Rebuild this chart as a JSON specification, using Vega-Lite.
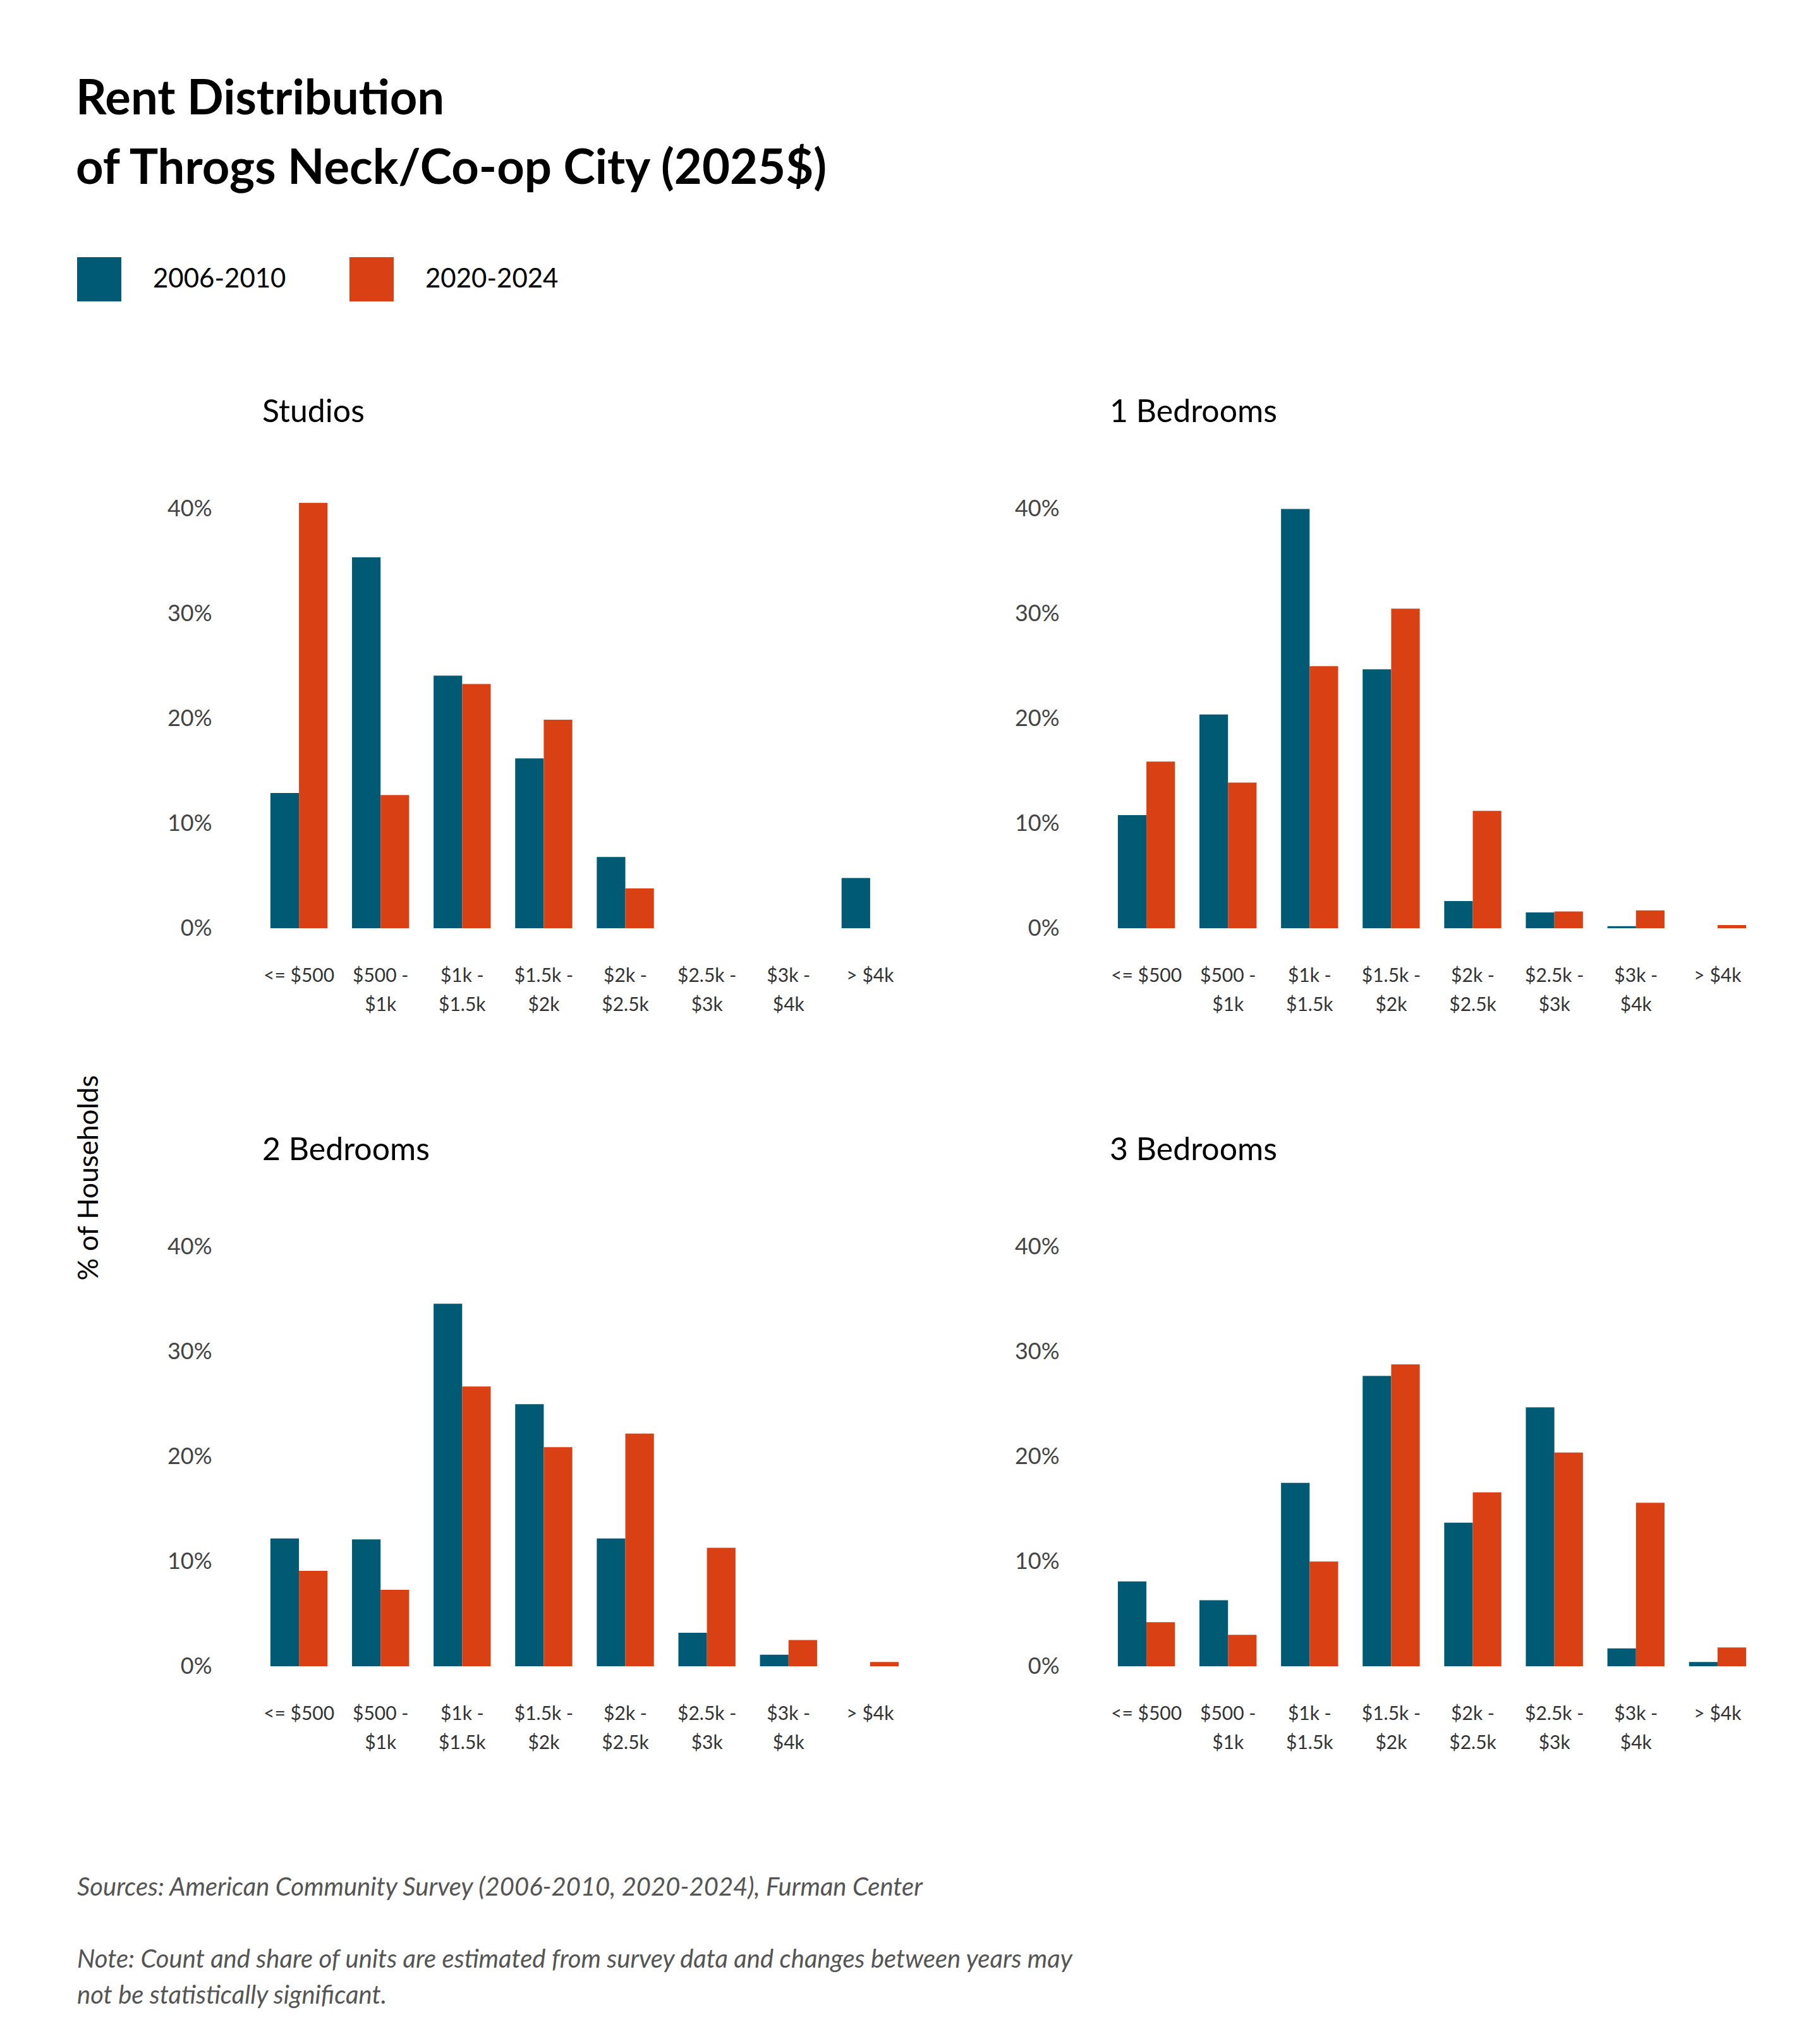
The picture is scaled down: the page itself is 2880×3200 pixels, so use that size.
{
  "$schema": "https://vega.github.io/schema/vega-lite/v6.json",
  "background": "white",
  "padding": {"left": 120, "top": 120, "right": 60, "bottom": 60},
  "title": {
    "text": ["Rent Distribution", "of Throgs Neck/Co-op City (2025$)"],
    "anchor": "start",
    "font": "Lato",
    "fontSize": 76,
    "fontWeight": "bold",
    "color": "#000000",
    "lineHeight": 110,
    "offset": 100
  },
  "datasets": {
    "rent": [
      {"type": "Studios", "rent": "<= $500", "period": "2006-2010", "pct": 12.9},
      {"type": "Studios", "rent": "$500 -|$1k", "period": "2006-2010", "pct": 35.4},
      {"type": "Studios", "rent": "$1k -|$1.5k", "period": "2006-2010", "pct": 24.1},
      {"type": "Studios", "rent": "$1.5k -|$2k", "period": "2006-2010", "pct": 16.2},
      {"type": "Studios", "rent": "$2k -|$2.5k", "period": "2006-2010", "pct": 6.8},
      {"type": "Studios", "rent": "$2.5k -|$3k", "period": "2006-2010", "pct": 0},
      {"type": "Studios", "rent": "$3k -|$4k", "period": "2006-2010", "pct": 0},
      {"type": "Studios", "rent": "> $4k", "period": "2006-2010", "pct": 4.8},
      {"type": "Studios", "rent": "<= $500", "period": "2020-2024", "pct": 40.6},
      {"type": "Studios", "rent": "$500 -|$1k", "period": "2020-2024", "pct": 12.7},
      {"type": "Studios", "rent": "$1k -|$1.5k", "period": "2020-2024", "pct": 23.3},
      {"type": "Studios", "rent": "$1.5k -|$2k", "period": "2020-2024", "pct": 19.9},
      {"type": "Studios", "rent": "$2k -|$2.5k", "period": "2020-2024", "pct": 3.8},
      {"type": "Studios", "rent": "$2.5k -|$3k", "period": "2020-2024", "pct": 0},
      {"type": "Studios", "rent": "$3k -|$4k", "period": "2020-2024", "pct": 0},
      {"type": "Studios", "rent": "> $4k", "period": "2020-2024", "pct": 0},
      {"type": "1 Bedrooms", "rent": "<= $500", "period": "2006-2010", "pct": 10.8},
      {"type": "1 Bedrooms", "rent": "$500 -|$1k", "period": "2006-2010", "pct": 20.4},
      {"type": "1 Bedrooms", "rent": "$1k -|$1.5k", "period": "2006-2010", "pct": 40.0},
      {"type": "1 Bedrooms", "rent": "$1.5k -|$2k", "period": "2006-2010", "pct": 24.7},
      {"type": "1 Bedrooms", "rent": "$2k -|$2.5k", "period": "2006-2010", "pct": 2.6},
      {"type": "1 Bedrooms", "rent": "$2.5k -|$3k", "period": "2006-2010", "pct": 1.5},
      {"type": "1 Bedrooms", "rent": "$3k -|$4k", "period": "2006-2010", "pct": 0.2},
      {"type": "1 Bedrooms", "rent": "> $4k", "period": "2006-2010", "pct": 0},
      {"type": "1 Bedrooms", "rent": "<= $500", "period": "2020-2024", "pct": 15.9},
      {"type": "1 Bedrooms", "rent": "$500 -|$1k", "period": "2020-2024", "pct": 13.9},
      {"type": "1 Bedrooms", "rent": "$1k -|$1.5k", "period": "2020-2024", "pct": 25.0},
      {"type": "1 Bedrooms", "rent": "$1.5k -|$2k", "period": "2020-2024", "pct": 30.5},
      {"type": "1 Bedrooms", "rent": "$2k -|$2.5k", "period": "2020-2024", "pct": 11.2},
      {"type": "1 Bedrooms", "rent": "$2.5k -|$3k", "period": "2020-2024", "pct": 1.6},
      {"type": "1 Bedrooms", "rent": "$3k -|$4k", "period": "2020-2024", "pct": 1.7},
      {"type": "1 Bedrooms", "rent": "> $4k", "period": "2020-2024", "pct": 0.3},
      {"type": "2 Bedrooms", "rent": "<= $500", "period": "2006-2010", "pct": 12.2},
      {"type": "2 Bedrooms", "rent": "$500 -|$1k", "period": "2006-2010", "pct": 12.1},
      {"type": "2 Bedrooms", "rent": "$1k -|$1.5k", "period": "2006-2010", "pct": 34.6},
      {"type": "2 Bedrooms", "rent": "$1.5k -|$2k", "period": "2006-2010", "pct": 25.0},
      {"type": "2 Bedrooms", "rent": "$2k -|$2.5k", "period": "2006-2010", "pct": 12.2},
      {"type": "2 Bedrooms", "rent": "$2.5k -|$3k", "period": "2006-2010", "pct": 3.2},
      {"type": "2 Bedrooms", "rent": "$3k -|$4k", "period": "2006-2010", "pct": 1.1},
      {"type": "2 Bedrooms", "rent": "> $4k", "period": "2006-2010", "pct": 0},
      {"type": "2 Bedrooms", "rent": "<= $500", "period": "2020-2024", "pct": 9.1},
      {"type": "2 Bedrooms", "rent": "$500 -|$1k", "period": "2020-2024", "pct": 7.3},
      {"type": "2 Bedrooms", "rent": "$1k -|$1.5k", "period": "2020-2024", "pct": 26.7},
      {"type": "2 Bedrooms", "rent": "$1.5k -|$2k", "period": "2020-2024", "pct": 20.9},
      {"type": "2 Bedrooms", "rent": "$2k -|$2.5k", "period": "2020-2024", "pct": 22.2},
      {"type": "2 Bedrooms", "rent": "$2.5k -|$3k", "period": "2020-2024", "pct": 11.3},
      {"type": "2 Bedrooms", "rent": "$3k -|$4k", "period": "2020-2024", "pct": 2.5},
      {"type": "2 Bedrooms", "rent": "> $4k", "period": "2020-2024", "pct": 0.4},
      {"type": "3 Bedrooms", "rent": "<= $500", "period": "2006-2010", "pct": 8.1},
      {"type": "3 Bedrooms", "rent": "$500 -|$1k", "period": "2006-2010", "pct": 6.3},
      {"type": "3 Bedrooms", "rent": "$1k -|$1.5k", "period": "2006-2010", "pct": 17.5},
      {"type": "3 Bedrooms", "rent": "$1.5k -|$2k", "period": "2006-2010", "pct": 27.7},
      {"type": "3 Bedrooms", "rent": "$2k -|$2.5k", "period": "2006-2010", "pct": 13.7},
      {"type": "3 Bedrooms", "rent": "$2.5k -|$3k", "period": "2006-2010", "pct": 24.7},
      {"type": "3 Bedrooms", "rent": "$3k -|$4k", "period": "2006-2010", "pct": 1.7},
      {"type": "3 Bedrooms", "rent": "> $4k", "period": "2006-2010", "pct": 0.4},
      {"type": "3 Bedrooms", "rent": "<= $500", "period": "2020-2024", "pct": 4.2},
      {"type": "3 Bedrooms", "rent": "$500 -|$1k", "period": "2020-2024", "pct": 3.0},
      {"type": "3 Bedrooms", "rent": "$1k -|$1.5k", "period": "2020-2024", "pct": 10.0},
      {"type": "3 Bedrooms", "rent": "$1.5k -|$2k", "period": "2020-2024", "pct": 28.8},
      {"type": "3 Bedrooms", "rent": "$2k -|$2.5k", "period": "2020-2024", "pct": 16.6},
      {"type": "3 Bedrooms", "rent": "$2.5k -|$3k", "period": "2020-2024", "pct": 20.4},
      {"type": "3 Bedrooms", "rent": "$3k -|$4k", "period": "2020-2024", "pct": 15.6},
      {"type": "3 Bedrooms", "rent": "> $4k", "period": "2020-2024", "pct": 1.8}
    ]
  },
  "vconcat": [
    {
      "hconcat": [
        {
          "data": {"values": [{"t": "% of Households"}]},
          "width": 40,
          "height": 2150,
          "mark": {"type": "text", "angle": 270, "font": "Lato", "fontSize": 44, "color": "#000000"},
          "encoding": {"text": {"field": "t"}},
          "view": {"stroke": null}
        },
        {
          "data": {"name": "rent"},
          "facet": {
            "field": "type",
            "type": "nominal",
            "sort": ["Studios", "1 Bedrooms", "2 Bedrooms", "3 Bedrooms"],
            "header": {
              "title": null,
              "labelAnchor": "start",
              "labelFont": "Lato",
              "labelFontSize": 50,
              "labelColor": "#000000",
              "labelPadding": 110,
              "labelOrient": "top"
            }
          },
          "columns": 2,
          "spacing": {"row": 190, "column": 170},
          "resolve": {"axis": {"x": "independent", "y": "independent"}},
          "spec": {
            "width": 1020,
            "height": 680,
            "view": {"stroke": null},
            "mark": {"type": "bar"},
            "encoding": {
              "x": {
                "field": "rent",
                "type": "nominal",
                "sort": null,
                "title": null,
                "scale": {"paddingInner": 0.3, "paddingOuter": 0.1},
                "axis": {
                  "labelExpr": "split(datum.label, '|')",
                  "labelAngle": 0,
                  "domain": false,
                  "ticks": false,
                  "labelPadding": 60,
                  "labelFont": "Lato",
                  "labelFontSize": 30,
                  "labelColor": "#333333",
                  "labelLineHeight": 46
                }
              },
              "xOffset": {"field": "period", "type": "nominal"},
              "y": {
                "field": "pct",
                "type": "quantitative",
                "title": null,
                "scale": {"domain": [0, 41], "nice": false},
                "axis": {
                  "values": [0, 10, 20, 30, 40],
                  "labelExpr": "datum.value + '%'",
                  "domain": false,
                  "ticks": false,
                  "grid": false,
                  "labelPadding": 80,
                  "labelFont": "Lato",
                  "labelFontSize": 36,
                  "labelColor": "#444444"
                }
              },
              "color": {
                "field": "period",
                "type": "nominal",
                "scale": {"domain": ["2006-2010", "2020-2024"], "range": ["#005a73", "#d94013"]},
                "legend": {
                  "title": null,
                  "orient": "top",
                  "direction": "horizontal",
                  "symbolType": "square",
                  "symbolSize": 4900,
                  "symbolStrokeWidth": 0,
                  "labelFont": "Lato",
                  "labelFontSize": 42,
                  "labelLimit": 400,
                  "labelColor": "#000000",
                  "columnPadding": 100,
                  "labelOffset": 50,
                  "offset": 150
                }
              }
            }
          }
        }
      ],
      "spacing": 100
    },
    {
      "data": {"values": [
        {"row": 0, "t": "Sources: American Community Survey (2006-2010, 2020-2024), Furman Center"},
        {"row": 2, "t": "Note: Count and share of units are estimated from survey data and changes between years may"},
        {"row": 3, "t": "not be statistically significant."}
      ]},
      "width": 2500,
      "height": 228,
      "view": {"stroke": null},
      "mark": {"type": "text", "align": "left", "baseline": "middle", "font": "Lato", "fontSize": 40, "fontStyle": "italic", "color": "#555555"},
      "encoding": {
        "text": {"field": "t"},
        "x": {"value": 0},
        "y": {"field": "row", "type": "quantitative", "scale": {"domain": [-0.5, 3.5], "range": [0, 228]}, "axis": null}
      }
    }
  ],
  "spacing": 20,
  "config": {
    "legend": {"orient": "top"}
  }
}
